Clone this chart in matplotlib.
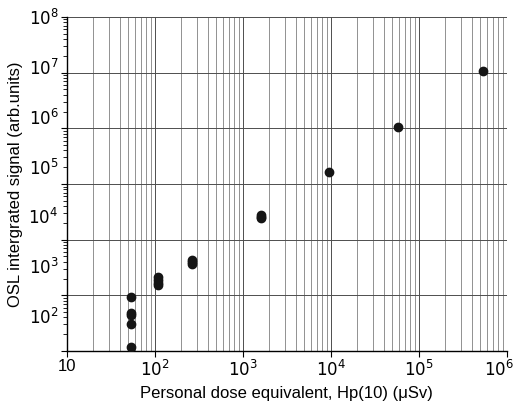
import numpy as np
import matplotlib.pyplot as plt
from matplotlib.ticker import LogLocator, NullLocator, NullFormatter
from matplotlib.transforms import ScaledTranslation

plt.rcParams['font.family'] = ['Liberation Sans', 'DejaVu Sans']

# dose (uSv) and OSL signal
dose = [54, 54, 54, 54, 54,
        110, 110, 110, 110,
        268, 268, 268,
        1600, 1600, 1600,
        9500, 58000, 538000]
signal = [922, 487, 438, 305, 118,
          2135, 1885, 1665, 1514,
          4313, 3970, 3653,
          27150, 25530, 23990,
          166300, 1.069e6, 1.057e7]

xticks = [10, 1e2, 1e3, 1e4, 1e5, 1e6]
xticklabels = ['10', '$10^2$', '$10^3$', '$10^4$', '$10^5$', '$10^6$']
yticks = [1e2, 1e3, 1e4, 1e5, 1e6, 1e7, 1e8]
yticklabels = ['$10^2$', '$10^3$', '$10^4$', '$10^5$', '$10^6$', '$10^7$', '$10^8$']

fig = plt.figure(figsize=(5.14, 4.03), dpi=100)
ax = fig.add_axes([0.130, 0.129, 0.856, 0.829])

ax.set_xscale('log')
ax.set_yscale('log')
ax.set_xlim(10, 1e6)
ax.set_ylim(1e2, 1e8)

ax.plot(dose, signal, 'o', color='#151515', markersize=6, zorder=3)

# grid: every x minor, only y decades
ax.xaxis.set_minor_locator(LogLocator(base=10, subs=np.arange(2, 10)))
ax.yaxis.set_minor_locator(LogLocator(base=10, subs=np.arange(2, 10)))
ax.grid(True, which='major', axis='both', color='0.3', lw=0.7)
ax.grid(True, which='minor', axis='x', color='0.5', lw=0.6)

ax.set_xticks(xticks)
ax.set_xticklabels(xticklabels, fontsize=12)
ax.xaxis.set_minor_formatter(NullFormatter())
ax.tick_params(axis='x', which='major', direction='out', length=4, width=0.8, pad=2)
ax.tick_params(axis='x', which='minor', length=0)

# y ticks at decades, labels drawn by a twin axis (offset as in the original)
ax.set_yticks(yticks)
ax.set_yticklabels([])
ax.yaxis.set_minor_formatter(NullFormatter())
ax.tick_params(axis='y', which='major', direction='out', length=4, width=0.8)
ax.tick_params(axis='y', which='minor', direction='out', length=3, width=0.6)

for s in ['top', 'right']:
    ax.spines[s].set_visible(False)
for s in ['left', 'bottom']:
    ax.spines[s].set_linewidth(1.0)

# last x label sits a little left so it stays inside the figure
last = ax.get_xticklabels()[-1]
last.set_transform(last.get_transform() + ScaledTranslation(-6 / 72, 0, fig.dpi_scale_trans))

ax2 = ax.twinx()
ax2.set_yscale('log')
ax2.set_ylim(10 ** (8 - 334 / 49.7), 1e8)
ax2.set_yticks(yticks)
ax2.set_yticklabels(yticklabels, fontsize=12)
ax2.yaxis.set_minor_locator(NullLocator())
ax2.yaxis.tick_left()
ax2.tick_params(axis='y', length=0, pad=6)
for s in ax2.spines.values():
    s.set_visible(False)

ax.set_xlabel('Personal dose equivalent, Hp(10) (μSv)', fontsize=12, labelpad=5)
ax2.set_ylabel('OSL intergrated signal (arb.units)', fontsize=12, labelpad=4)
ax2.yaxis.set_label_position('left')

fig.savefig('out.png', dpi=100)
